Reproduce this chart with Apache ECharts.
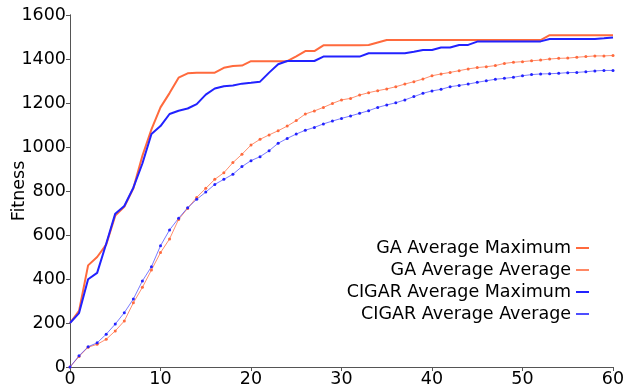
<!DOCTYPE html>
<html>
<head>
<meta charset="utf-8">
<script src="https://cdn.jsdelivr.net/npm/echarts@6/dist/echarts.min.js"></script>
<style>
  html, body { margin: 0; padding: 0; background: #fff; }
  #chart { width: 624px; height: 385px; }
</style>
</head>
<body>
<div id="chart"></div>
<script>
// generation 0..60
const gaMax = [200, 255, 462, 500, 556, 688, 728, 812, 960, 1080, 1180, 1245, 1315, 1335, 1338, 1338, 1338, 1360, 1368, 1370,
  1390, 1390, 1390, 1390, 1390, 1412, 1436, 1436, 1462, 1462, 1462, 1462, 1462, 1464, 1475, 1486,
  1486, 1486, 1486, 1486, 1486, 1486, 1486, 1486, 1486, 1486, 1486, 1486, 1486, 1486, 1486, 1486, 1486,
  1508, 1508, 1508, 1508, 1508, 1508, 1508, 1508];
const gaAvg = [0, 48, 90, 103, 126, 164, 209, 292, 362, 441, 520, 582, 671, 721, 771, 812, 853, 883, 929, 967,
  1009, 1035, 1055, 1074, 1095, 1120, 1150, 1164, 1180, 1198, 1214, 1221, 1236, 1247, 1256, 1264, 1274, 1286, 1297, 1309,
  1324, 1332, 1339, 1347, 1355, 1361, 1365, 1370, 1380, 1385, 1388, 1392, 1395, 1400, 1403, 1404, 1408, 1411, 1414, 1414, 1416];
const cigarMax = [200, 245, 399, 428, 560, 697, 732, 815, 925, 1059, 1095, 1150, 1165, 1175, 1195, 1238, 1266, 1276, 1280, 1288,
  1292, 1297, 1338, 1376, 1391, 1391, 1391, 1391, 1411, 1411, 1411, 1411, 1411, 1426, 1426, 1426, 1426, 1426, 1433, 1441,
  1441, 1452, 1452, 1464, 1464, 1479, 1480, 1480, 1480, 1480, 1480, 1480, 1480, 1491, 1491, 1491, 1491, 1491, 1491, 1494, 1498];
const cigarAvg = [0, 51, 92, 110, 149, 195, 247, 309, 391, 456, 551, 623, 676, 724, 762, 795, 830, 853, 876, 911,
  938, 956, 983, 1017, 1039, 1059, 1076, 1089, 1105, 1118, 1130, 1141, 1153, 1165, 1180, 1191, 1201, 1214, 1229, 1244,
  1255, 1262, 1274, 1280, 1286, 1294, 1301, 1308, 1312, 1317, 1324, 1329, 1332, 1333, 1335, 1338, 1339, 1342, 1346, 1348, 1348];
const seriesNames = ["GA Average Maximum", "GA Average Average", "CIGAR Average Maximum", "CIGAR Average Average"];

const FONT = "DejaVu Sans";
const ORANGE = "#ff6a3d";
const BLUE = "#2222ff";
const pairs = (arr) => arr.map((v, i) => [i, v]);

const chart = echarts.init(document.getElementById("chart"));

const boxAxis = { lineStyle: { color: "#555", width: 1 } };
const plain = (v) => String(v);

chart.setOption({
  animation: false,
  textStyle: { fontFamily: FONT },
  grid: { left: 70, right: 11, top: 15, bottom: 18, containLabel: false, outerBoundsMode: "none" },
  legend: {
    orient: "vertical",
    right: 30,
    top: 233,
    align: "right",
    icon: "rect",
    itemWidth: 13,
    itemHeight: 2,
    itemGap: 2,
    textStyle: { fontSize: 17.5, lineHeight: 20, color: "#000", fontFamily: FONT },
    data: [
      { name: seriesNames[0], itemStyle: { color: ORANGE } },
      { name: seriesNames[1], itemStyle: { color: ORANGE, opacity: 0.8 } },
      { name: seriesNames[2], itemStyle: { color: BLUE } },
      { name: seriesNames[3], itemStyle: { color: BLUE, opacity: 0.8 } }
    ]
  },
  xAxis: [
    {
      type: "value", min: 0, max: 60, interval: 10,
      axisLine: boxAxis, axisTick: { show: false },
      axisLabel: { fontSize: 17.5, color: "#000", margin: 3, fontFamily: FONT, formatter: plain },
      splitLine: { show: false }
    },
    {
      type: "value", position: "top", min: 0, max: 60, interval: 10,
      axisLine: boxAxis,
      axisTick: { inside: true, length: 4, lineStyle: { color: "#555" } },
      axisLabel: { show: false }, splitLine: { show: false }
    }
  ],
  yAxis: [
    {
      type: "value", min: 0, max: 1600, interval: 200,
      name: "Fitness", nameLocation: "middle", nameGap: 42, nameMoveOverlap: false,
      nameTextStyle: { fontSize: 17.5, color: "#000", fontFamily: FONT },
      axisLine: { show: true, ...boxAxis }, axisTick: { show: false },
      axisLabel: { fontSize: 17.5, color: "#000", margin: 4, fontFamily: FONT, formatter: plain },
      splitLine: { show: false }
    },
    {
      type: "value", position: "right", min: 0, max: 1600, interval: 200,
      axisLine: { show: true, ...boxAxis },
      axisTick: { show: true, inside: true, length: 4, lineStyle: { color: "#555" } },
      axisLabel: { show: false }, splitLine: { show: false }
    }
  ],
  series: [
    {
      name: seriesNames[0], type: "line", data: pairs(gaMax),
      showSymbol: false, symbol: "none",
      lineStyle: { color: ORANGE, width: 2 }, itemStyle: { color: ORANGE }, z: 3
    },
    {
      name: seriesNames[1], type: "line", data: pairs(gaAvg),
      symbol: "circle", symbolSize: 3,
      lineStyle: { color: ORANGE, width: 1, opacity: 0.75 }, itemStyle: { color: ORANGE }, z: 2
    },
    {
      name: seriesNames[2], type: "line", data: pairs(cigarMax),
      showSymbol: false, symbol: "none",
      lineStyle: { color: BLUE, width: 2 }, itemStyle: { color: BLUE }, z: 4
    },
    {
      name: seriesNames[3], type: "line", data: pairs(cigarAvg),
      symbol: "circle", symbolSize: 3,
      lineStyle: { color: BLUE, width: 1, opacity: 0.6 }, itemStyle: { color: BLUE }, z: 2
    }
  ]
});
</script>
</body>
</html>
